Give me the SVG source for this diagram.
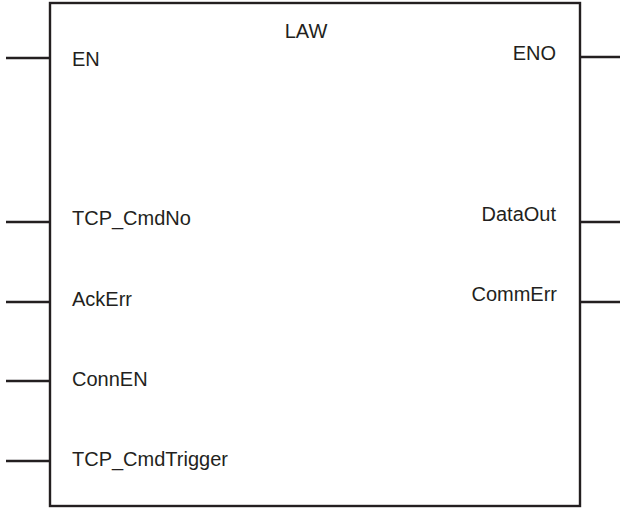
<svg xmlns="http://www.w3.org/2000/svg" width="620" height="508" viewBox="0 0 620 508">
<style>
.box{fill:#ffffff;stroke:#231f20;stroke-width:2.4}
.pin{stroke:#231f20;stroke-width:2.4;fill:none}
text{font-family:"Liberation Sans",Arial,sans-serif;font-size:20px;fill:#231f20}
.r{text-anchor:end}
.c{text-anchor:middle}
</style>
<rect width="620" height="508" fill="#ffffff"/>
<g id="connectors">
<line class="pin" x1="6" y1="58" x2="50" y2="58"/>
<line class="pin" x1="6" y1="222" x2="50" y2="222"/>
<line class="pin" x1="6" y1="302" x2="50" y2="302"/>
<line class="pin" x1="6" y1="381" x2="50" y2="381"/>
<line class="pin" x1="6" y1="461" x2="50" y2="461"/>
<line class="pin" x1="580" y1="57" x2="620" y2="57"/>
<line class="pin" x1="580" y1="222" x2="620" y2="222"/>
<line class="pin" x1="580" y1="302" x2="620" y2="302"/>
</g>
<g id="law">
<rect class="box" x="50" y="3" width="530" height="503"/>
<text class="c" x="306" y="38">LAW</text>
<text x="72" y="66">EN</text>
<text x="72" y="225">TCP_CmdNo</text>
<text x="72" y="306">AckErr</text>
<text x="72" y="386">ConnEN</text>
<text x="72" y="466">TCP_CmdTrigger</text>
<text class="r" x="556" y="60">ENO</text>
<text class="r" x="556" y="221">DataOut</text>
<text class="r" x="557" y="301">CommErr</text>
</g>
</svg>
